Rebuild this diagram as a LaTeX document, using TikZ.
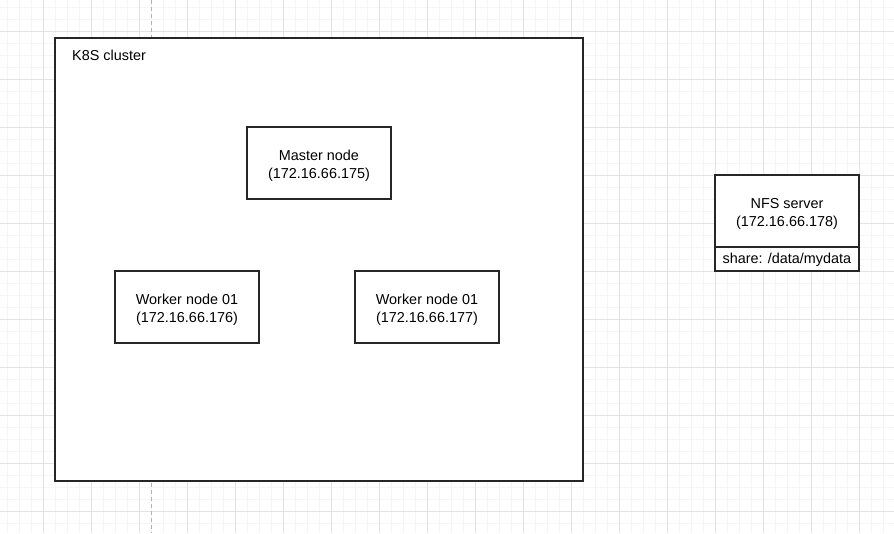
\documentclass[tikz,border=0pt]{standalone}
\usepackage{fontspec}
\setmainfont{Liberation Sans}
\begin{document}
\begin{tikzpicture}[x=1pt,y=-1pt,
  every node/.style={font=\fontsize{14.4}{18}\selectfont},
  box/.style={draw=black!85,line width=1.2pt,fill=white,rectangle,inner sep=0pt,
    minimum width=144pt,minimum height=72pt},
  boxtext/.style={inner sep=0pt,align=center},
  minorgrid/.style={draw=black!4,line width=0.8pt},
  majorgrid/.style={draw=black!11,line width=0.8pt},
  pageedge/.style={draw=black!30,line width=0.8pt,dash pattern=on 4pt off 3pt}]
\useasboundingbox (0,0) rectangle (894,533);
\fill[white] (0,0) rectangle (894,533);
% grid
\foreach \i in {0,...,74} {
  \pgfmathsetmacro{\gx}{7.5+12*\i}
  \draw[minorgrid] (\gx,0) -- (\gx,533);
}
\foreach \i in {0,...,44} {
  \pgfmathsetmacro{\gy}{7.5+12*\i}
  \draw[minorgrid] (0,\gy) -- (894,\gy);
}
\foreach \i in {0,...,18} {
  \pgfmathsetmacro{\gx}{43.5+48*\i}
  \draw[majorgrid] (\gx,0) -- (\gx,533);
}
\foreach \i in {0,...,10} {
  \pgfmathsetmacro{\gy}{31.5+48*\i}
  \draw[majorgrid] (0,\gy) -- (894,\gy);
}
\coordinate (pt) at (151.5,0);
\coordinate (pb) at (151.5,533);
\draw[pageedge] (pt) -- (pb);
% cluster
\node[box,minimum width=528pt,minimum height=443pt] (cluster) at (319,259.5) {};
\node[anchor=west,inner sep=0pt] (clabel) at (72,55) {K8S cluster};
\node[box] (master) at (319,163) {};
\node[boxtext] (mastertxt) at ([yshift=-3pt]master.center) {Master node\\(172.16.66.175)};
\node[box] (w1) at (187,307) {};
\node[boxtext] (w1txt) at ([yshift=-3pt]w1.center) {Worker node 01\\(172.16.66.176)};
\node[box] (w2) at (427,307) {};
\node[boxtext] (w2txt) at ([yshift=-3pt]w2.center) {Worker node 01\\(172.16.66.177)};
% NFS
\node[box] (nfs) at (787,211) {};
\node[boxtext] (nfstxt) at ([yshift=-3pt]nfs.center) {NFS server\\(172.16.66.178)};
\node[box,minimum height=24pt] (share) at (787,259) {};
\node[anchor=west,inner sep=0pt] (sharetxt) at ([xshift=8pt,yshift=-0.5pt]share.west) {share: /data/mydata};
\end{tikzpicture}
\end{document}
